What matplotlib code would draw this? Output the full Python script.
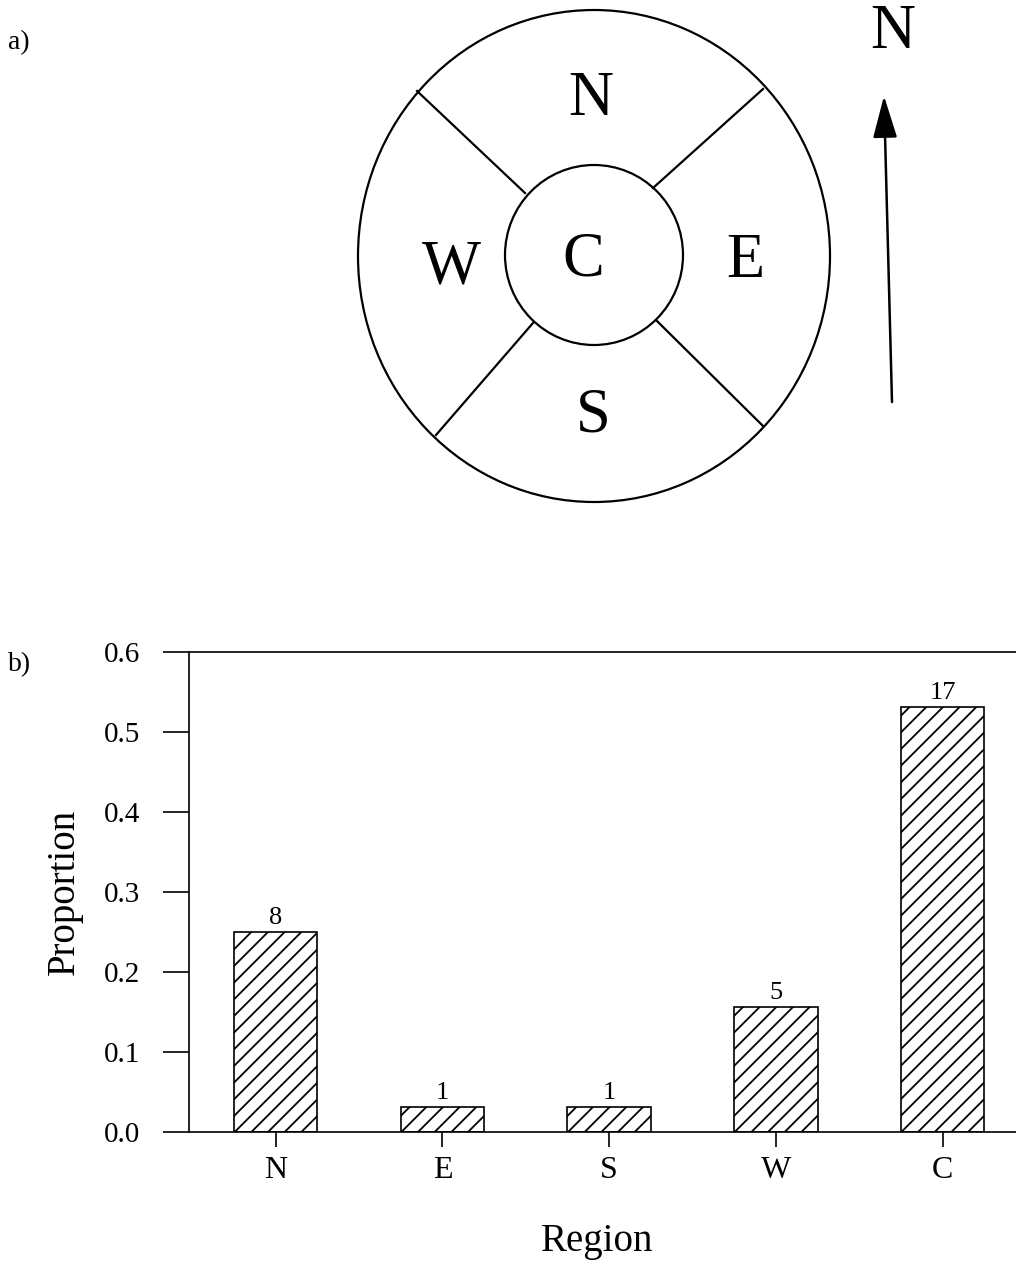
import matplotlib
matplotlib.use("Agg")
import matplotlib.pyplot as plt
from matplotlib.patches import Ellipse

plt.rcParams['font.family'] = ['Liberation Serif', 'DejaVu Serif']
plt.rcParams['hatch.linewidth'] = 1.3

# data
regions = ['N', 'E', 'S', 'W', 'C']
counts = [8, 1, 1, 5, 17]
proportions = [0.25, 0.031, 0.031, 0.156, 0.531]
yticks = [0.0, 0.1, 0.2, 0.3, 0.4, 0.5, 0.6]

fig = plt.figure(figsize=(10.16, 12.61), dpi=100)

# a) schematic of the regions (pixel coordinates)
axd = fig.add_axes([0, (1261 - 520) / 1261, 1, 520 / 1261])
axd.set_xlim(0, 1016)
axd.set_ylim(520, 0)
axd.axis('off')

outer = dict(xy=(594, 256), width=472, height=492)
inner = dict(xy=(594, 255), width=178, height=180)
axd.add_patch(Ellipse(fill=False, lw=1.6, ec='black', **outer))
axd.add_patch(Ellipse(fill=False, lw=1.6, ec='black', **inner))

dividers = [((417, 91), (525, 193)),
            ((763, 89), (653, 188)),
            ((436, 435), (533, 323)),
            ((763, 426), (657, 321))]
for (x0, y0), (x1, y1) in dividers:
    axd.plot([x0, x1], [y0, y1], color='black', lw=1.6)

letters = {'N': (591, 100), 'W': (451, 268), 'C': (583, 260),
           'E': (745, 262), 'S': (593, 417)}
for t, (x, y) in letters.items():
    axd.text(x, y, t, fontsize=45, ha='center', va='center')

axd.annotate('', xy=(884, 96), xytext=(892, 402),
             arrowprops=dict(arrowstyle='-|>,head_length=2.6,head_width=0.75',
                             color='black', lw=1.8, shrinkA=0, shrinkB=0))
axd.text(893, 33, 'N', fontsize=45, ha='center', va='center')
fig.text(8 / 1016, 1 - 43 / 1261, 'a)', fontsize=20, ha='left', va='center')

# b) bar chart
ax = fig.add_axes([189 / 1016, (1261 - 1132) / 1261, 827 / 1016, 480 / 1261])
x = list(range(len(regions)))
bars = ax.bar(x, proportions, width=0.5, color='white', edgecolor='black',
              hatch='//', lw=1.2)
for b, c in zip(bars, counts):
    ax.text(b.get_x() + b.get_width() / 2, b.get_height() + 0.004, str(c),
            ha='center', va='bottom', fontsize=19)

ax.set_xlim(-0.52, 4.44)
ax.set_ylim(0, 0.6)
ax.set_xticks(x)
ax.set_xticklabels(regions)
ax.set_yticks(yticks)
ax.set_yticklabels([f'{v:.1f}' for v in yticks])
ax.tick_params(axis='y', direction='out', length=19, width=1.2, pad=16, labelsize=21)
ax.tick_params(axis='x', direction='out', length=11, width=1.2, pad=6, labelsize=23)
ax.spines['right'].set_visible(False)
for s in ['left', 'top', 'bottom']:
    ax.spines[s].set_linewidth(1.2)

ax.set_ylabel('Proportion', fontsize=28)
ax.yaxis.set_label_coords(-0.128, 0.5)
ax.set_xlabel('Region', fontsize=28)
ax.xaxis.set_label_coords(0.494, -0.19)
fig.text(8 / 1016, 1 - 665 / 1261, 'b)', fontsize=20, ha='left', va='center')

fig.savefig('out.png', dpi=100)
